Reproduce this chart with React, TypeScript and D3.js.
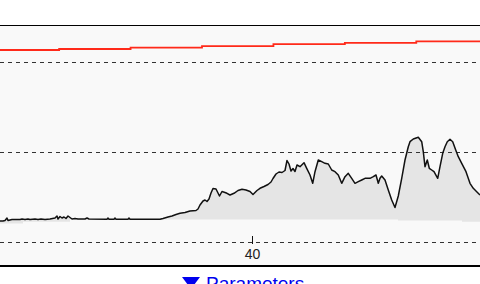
import React, { useEffect, useRef } from "react";
import * as d3 from "d3";

// x in data units (tick "40" visible), y in data units (gridlines at 0, 45, 90)
const gridValues = [0, 45, 90];
const xTicks = [40];

const redX = [3, 13, 23, 33, 43, 53, 63, 73];
const redY = [96.0, 96.5, 97.15, 97.9, 98.9, 99.6, 100.3, 100.3];

const blackX = [
  4.72, 5.14, 5.42, 5.7, 5.84, 6.4, 7.52, 7.8, 8.22, 8.64, 8.92, 9.62, 10.04, 10.46, 11.02, 11.72,
  12.42, 12.7, 12.84, 13.12, 13.4, 13.68, 13.96, 14.24, 14.52, 14.8, 15.22, 15.64, 16.62, 16.9,
  17.18, 19.7, 19.84, 19.98, 20.68, 20.82, 20.96, 22.64, 22.78, 22.92, 27.12, 27.54, 28.24, 28.8,
  29.36, 29.92, 30.62, 31.32, 32.16, 32.44, 32.72, 33.14, 33.42, 33.7, 33.98, 34.26, 34.54, 34.96,
  35.24, 35.45, 35.8, 36.22, 36.5, 36.92, 37.48, 38.04, 38.6, 39.16, 39.72, 40.14, 40.7, 41.12,
  41.68, 42.24, 42.66, 42.94, 43.36, 43.78, 44.2, 44.62, 44.9, 45.18, 45.46, 45.74, 46.02, 46.3,
  46.72, 47.28, 47.66, 48.12, 48.5, 48.82, 49.28, 49.76, 50.22, 50.68, 51.16, 51.62, 52.08, 52.56,
  53.02, 53.48, 53.96, 54.42, 54.88, 55.36, 55.82, 56.52, 56.98, 57.36, 57.68, 57.92, 58.16, 58.62,
  59.08, 59.56, 60.02, 60.48, 60.96, 61.42, 61.88, 62.12, 62.58, 63.28, 63.76, 63.98, 64.22, 64.54,
  64.82, 65.16, 65.48, 66.0, 66.32, 66.7, 67.02, 67.34, 67.72, 68.1, 68.52, 68.88, 69.36, 69.96,
  70.52, 70.98, 71.46, 71.92,
];
const blackY = [
  10.5, 10.5, 10.75, 12.0, 10.75, 11.25, 11.25, 11.5, 11.25, 11.5, 11.25, 11.5, 11.25, 11.5, 11.25, 11.5,
  12.0, 13.0, 11.5, 12.75, 12.0, 12.5, 11.75, 13.0, 12.25, 11.5, 11.75, 11.5, 11.5, 12.0,
  11.5, 11.4, 12.0, 11.4, 11.4, 12.0, 11.4, 11.4, 12.0, 11.35, 11.35, 11.75, 12.5, 13.0,
  13.75, 14.35, 14.75, 15.5, 15.75, 16.5, 18.5, 20.5, 21.0, 20.25, 21.5, 24.5, 26.75, 26.5,
  24.5, 23.0, 25.25, 24.75, 24.35, 23.5, 24.35, 25.75, 26.35, 26.0, 25.25, 23.75, 25.75, 26.85,
  27.75, 28.75, 30.0, 31.75, 34.0, 35.0, 34.75, 35.75, 40.75, 39.0, 35.5, 36.75, 35.25, 38.5,
  37.65, 39.65, 36.85, 33.5, 29.35, 35.15, 41.0, 40.15, 39.35, 39.0, 36.0, 35.15, 33.5, 29.35,
  32.65, 34.35, 31.85, 29.35, 30.15, 31.0, 31.85, 31.85, 32.65, 33.5, 29.35, 31.85, 33.0, 31.0,
  26.0, 21.0, 17.25, 23.0, 31.85, 41.0, 47.65, 50.15, 51.5, 52.35, 50.15, 45.15, 37.65, 41.0,
  36.85, 36.0, 35.15, 31.85, 37.65, 44.35, 47.65, 50.15, 51.35, 50.15, 46.0, 42.65, 39.35, 35.15,
  29.35, 26.85, 25.15, 23.5,
];

// lower edge of the shaded band (step values)
const baseX = [4.5, 7.94, 14.52, 60.44, 69.4, 72.5];
const baseY = [9.25, 10.15, 11.25, 10.75, 10.1, 10.1];

const W = 480;
const H = 284;

export default function App() {
  const axisRef = useRef<SVGGElement>(null);

  const x = d3.scaleLinear().domain([4.72, 71.92]).range([0, 480]);
  const y = d3.scaleLinear().domain([0, 90]).range([242, 62]);

  useEffect(() => {
    if (!axisRef.current) return;
    const g = d3.select(axisRef.current);
    g.selectAll("*").remove();
    g.call(
      d3.axisBottom(x).tickValues(xTicks).tickSize(8).tickPadding(5).tickFormat(d3.format("d")) as any
    );
    g.select(".domain").remove();
    g.selectAll(".tick line").attr("stroke", "#111").attr("shape-rendering", "crispEdges");
    g.selectAll(".tick text")
      .attr("fill", "#222")
      .style("font-family", "'Liberation Sans', Arial, sans-serif")
      .style("font-size", "14px");
  }, []);

  const red = redX.map((v, i) => [x(v), y(redY[i])] as [number, number]);
  const redPath = d3.line().curve(d3.curveStepAfter)(red) || "";

  const upper = blackX.map((v, i) => [x(v), y(blackY[i])] as [number, number]);
  const linePath = d3.line()(upper) || "";

  const lower: [number, number][] = [];
  for (let i = 0; i < baseX.length - 1; i++) {
    lower.push([x(baseX[i]), y(baseY[i])]);
    lower.push([x(baseX[i + 1]), y(baseY[i])]);
  }
  const areaPath =
    (d3.line()([...upper, [x(72.5), y(blackY[blackY.length - 1])], ...lower.slice().reverse()]) || "") + "Z";

  return (
    <svg
      width={W}
      height={H}
      style={{ position: "absolute", left: 0, top: 0, display: "block" }}
      xmlns="http://www.w3.org/2000/svg"
    >
      <rect x={0} y={0} width={W} height={H} fill="#ffffff" />
      <rect x={0} y={26} width={W} height={239} fill="#f9f9f9" />
      <path d={areaPath} fill="#e5e5e5" stroke="none" />
      {gridValues.map((g) => (
        <line
          key={g}
          x1={0}
          x2={W}
          y1={Math.round(y(g)) + 0.5}
          y2={Math.round(y(g)) + 0.5}
          stroke="#333"
          strokeWidth={1}
          strokeDasharray="4,4"
          shapeRendering="crispEdges"
        />
      ))}
      <path d={redPath} fill="none" stroke="#ff2a1a" strokeWidth={1.8} />
      <path d={linePath} fill="none" stroke="#111" strokeWidth={1.5} strokeLinejoin="round" />
      <g ref={axisRef} transform="translate(0,236)" />
      <line x1={0} x2={W} y1={25.5} y2={25.5} stroke="#000" strokeWidth={1} />
      <rect x={0} y={265} width={W} height={2} fill="#000" />
      <polygon points="182,277 200,277 191,289" fill="#0000ee" />
      <text
        x={206}
        y={290}
        fill="#0000ee"
        style={{ fontFamily: "'Liberation Sans', Arial, sans-serif", fontSize: "19px" }}
      >
        Parameters
      </text>
    </svg>
  );
}
